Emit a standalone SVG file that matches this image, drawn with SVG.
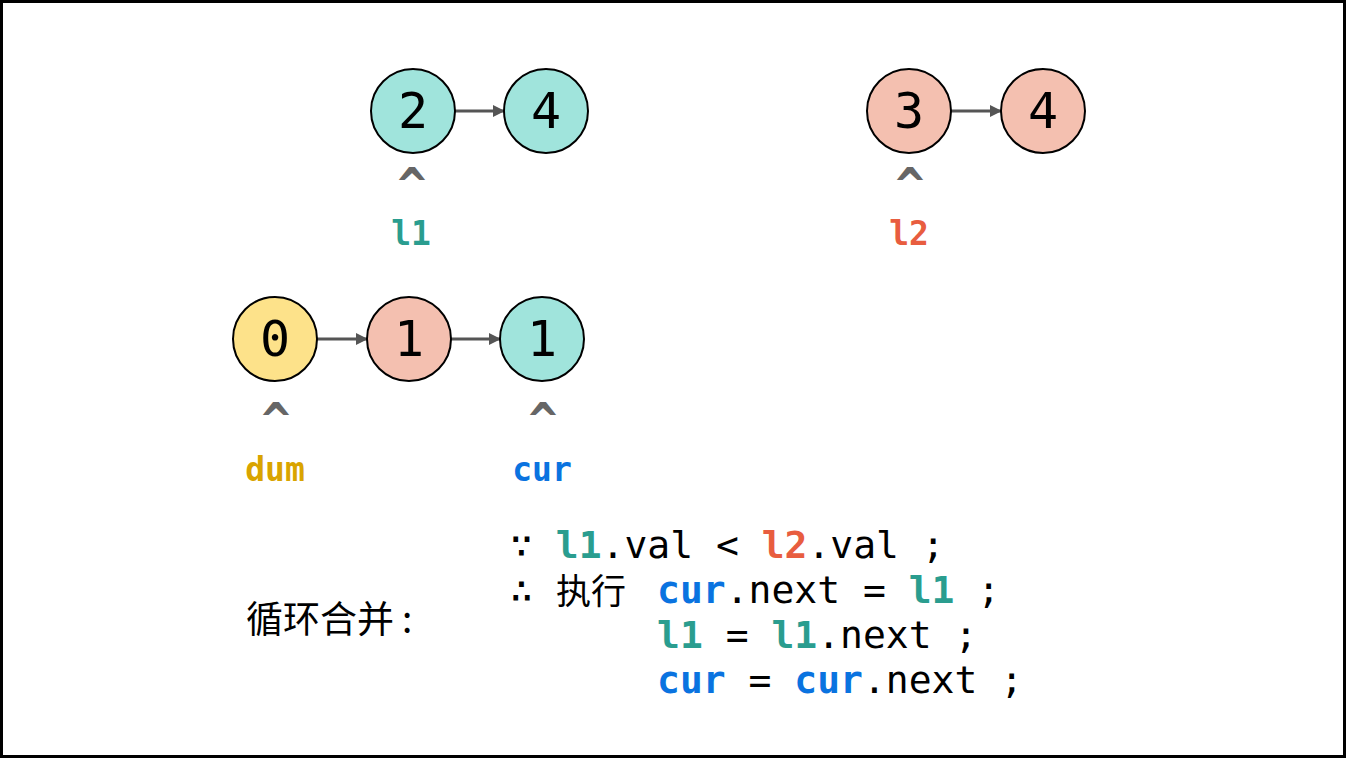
<svg xmlns="http://www.w3.org/2000/svg" width="1346" height="758" viewBox="0 0 1346 758">
<defs>
<marker id="ah" markerWidth="12" markerHeight="12" refX="11" refY="6" orient="auto" markerUnits="userSpaceOnUse">
<path d="M0,0 L12,6 L0,12 z" fill="#555"/>
</marker>
<style>
.n circle{stroke:#000;stroke-width:2}
.teal circle{fill:#a0e4dc}
.sal circle{fill:#f4c0b0}
.yel circle{fill:#fde28a}
.n text{font-family:"DejaVu Sans Mono",monospace;font-size:50px;text-anchor:middle;fill:#000}
.car{font-family:"DejaVu Sans Mono",monospace;font-size:48px;font-weight:bold;text-anchor:middle;fill:#666}
.lab{font-family:"DejaVu Sans Mono",monospace;font-size:33px;font-weight:bold;text-anchor:middle}
.code{font-family:"DejaVu Sans Mono","Noto Sans CJK SC",monospace;font-size:38px;fill:#000}
.b{font-weight:bold}
.t{fill:#2a9d8f}.r{fill:#e85d3f}.bl{fill:#0a73e0}.g{fill:#d9a400}
.cn{font-family:"Noto Sans CJK SC",sans-serif;font-size:37px;fill:#000}
.edges line{stroke:#555;stroke-width:3;marker-end:url(#ah)}
</style>
</defs>
<rect x="1.5" y="1.5" width="1343" height="755" fill="#fff" stroke="#000" stroke-width="3"/>
<g class="edges">
<line x1="455" y1="111" x2="504" y2="111"/>
<line x1="951" y1="111" x2="1001" y2="111"/>
<line x1="317" y1="339" x2="367" y2="339"/>
<line x1="451" y1="339" x2="500" y2="339"/>
</g>
<g id="n2" class="n teal"><circle cx="413" cy="111" r="42"/><text x="413" y="128">2</text></g>
<g id="n4a" class="n teal"><circle cx="546" cy="111" r="42"/><text x="546" y="128">4</text></g>
<g id="n3" class="n sal"><circle cx="909" cy="111" r="42"/><text x="909" y="128">3</text></g>
<g id="n4b" class="n sal"><circle cx="1043" cy="111" r="42"/><text x="1043" y="128">4</text></g>
<g id="n0" class="n yel"><circle cx="275" cy="339" r="42"/><text x="275" y="356">0</text></g>
<g id="n1a" class="n sal"><circle cx="409" cy="339" r="42"/><text x="409" y="356">1</text></g>
<g id="n1b" class="n teal"><circle cx="542" cy="339" r="42"/><text x="542" y="356">1</text></g>
<g id="p-l1"><text class="car" x="412" y="202">^</text><text class="lab t" x="411" y="245">l1</text></g>
<g id="p-l2"><text class="car" x="910" y="202">^</text><text class="lab r" x="909" y="245">l2</text></g>
<g id="p-dum"><text class="car" x="276" y="437">^</text><text class="lab g" x="275" y="481">dum</text></g>
<g id="p-cur"><text class="car" x="543" y="437">^</text><text class="lab bl" x="542" y="481">cur</text></g>
<g id="code">
<text class="cn" x="246" y="633">循环合并<tspan x="402">:</tspan></text>
<text class="code" x="510" y="558" xml:space="preserve">∵ <tspan class="b t">l1</tspan>.val &lt; <tspan class="b r">l2</tspan>.val ;</text>
<text class="code" x="510" y="603">∴</text>
<text class="cn" x="556" y="604" style="font-size:35px">执行</text>
<text class="code" x="657" y="603" xml:space="preserve"><tspan class="b bl">cur</tspan>.next = <tspan class="b t">l1</tspan> ;</text>
<text class="code" x="657" y="648" xml:space="preserve"><tspan class="b t">l1</tspan> = <tspan class="b t">l1</tspan>.next ;</text>
<text class="code" x="657" y="693" xml:space="preserve"><tspan class="b bl">cur</tspan> = <tspan class="b bl">cur</tspan>.next ;</text>
</g>
</svg>
